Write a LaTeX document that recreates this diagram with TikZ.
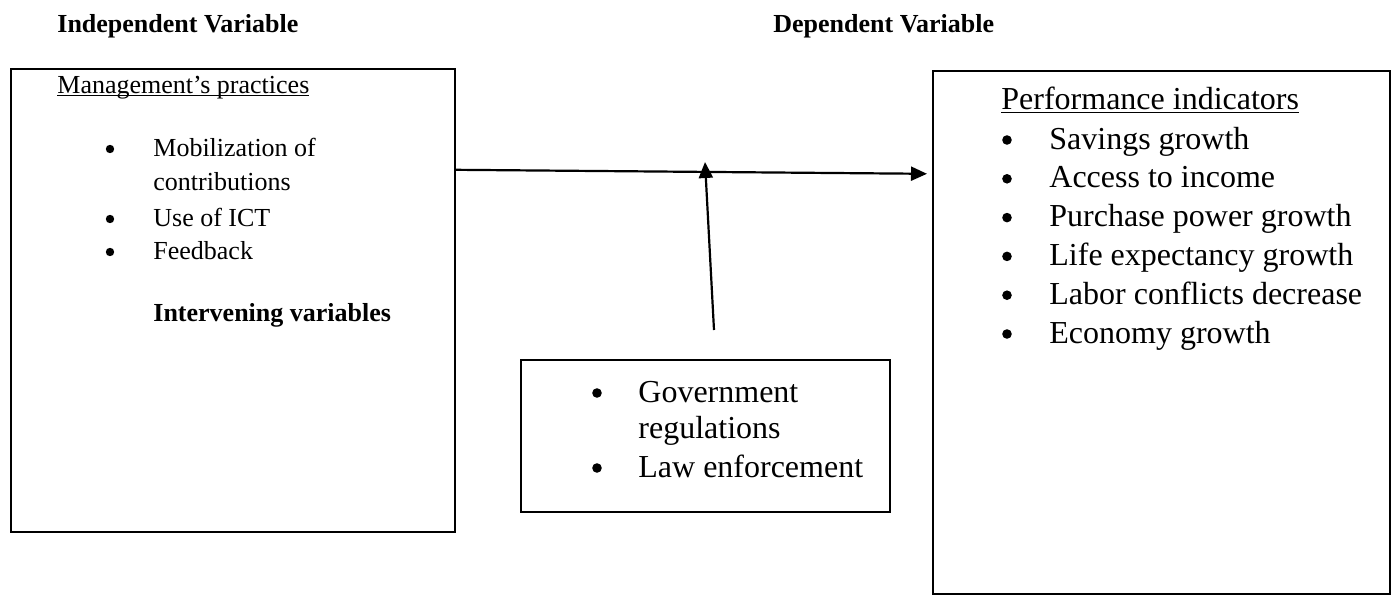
\documentclass[tikz,border=0pt]{standalone}
\usepackage{fontspec}
\setmainfont{Liberation Serif}
\usetikzlibrary{arrows.meta}

\tikzset{
  box/.style={draw, line width=0.8pt, anchor=north west, inner sep=0pt},
  head/.style={font=\fontsize{13}{15}\selectfont\bfseries, anchor=base west, inner sep=0pt},
  small/.style={font=\fontsize{13}{15}\selectfont, anchor=base west, inner sep=0pt},
  big/.style={font=\fontsize{16}{19}\selectfont, anchor=base west, inner sep=0pt},
  dot/.style={circle, fill, inner sep=0pt, minimum size=4.8pt},
  link/.style={line width=1.1pt, -{Triangle[length=8pt,width=7pt]}}
}

\begin{document}
\begin{tikzpicture}[x=0.5pt,y=-0.5pt]
\useasboundingbox (0,0) rectangle (1394,595);

% headings
\node[head] (indep) at (57,32) {Independent Variable};
\node[head] (dep) at (773,32) {Dependent Variable};

% boxes
\node[box, minimum width=222pt, minimum height=231.5pt] (mgmt) at (10,68) {};
\node[box, minimum width=184.5pt, minimum height=76pt] (govt) at (520,359) {};
\node[box, minimum width=228.5pt, minimum height=261.5pt] (perf) at (932,70) {};

% management's practices
\node[small] (mtitle) at (57,93) {\underline{\smash{Management's practices}}};
\node[dot, minimum size=4.2pt] (mb1) at (110,149) {};
\node[small] (mi1) at (153,156) {Mobilization of};
\node[small] (mi1b) at (153,190) {contributions};
\node[dot, minimum size=4.2pt] (mb2) at (110,219) {};
\node[small] (mi2) at (153,226) {Use of ICT};
\node[dot, minimum size=4.2pt] (mb3) at (110,252) {};
\node[small] (mi3) at (153,259) {Feedback};
\node[small, font=\fontsize{13}{15}\selectfont\bfseries] (interv) at (153,321) {Intervening variables};

% intervening
\node[dot] (gb1) at (597,393) {};
\node[big] (gi1) at (638,402) {Government};
\node[big] (gi1b) at (638,438) {regulations};
\node[dot] (gb2) at (597,468) {};
\node[big] (gi2) at (638,477) {Law enforcement};

% performance indicators
\node[big] (ptitle) at (1001,109) {\underline{Performance indicators}};
\foreach \txt [count=\i from 0] in {Savings growth, Access to income, Purchase power growth,
  Life expectancy growth, Labor conflicts decrease, Economy growth}{
  \node[dot] (pb\i) at (1007,140+38.8*\i) {};
  \node[big] (pi\i) at (1049,149+38.8*\i) {\txt};
}

% arrows
\coordinate (regs) at (714,330);
\coordinate (meet) at (705,162);
\draw[link] ([yshift=65.25pt]mgmt.east) -- ([yshift=79.25pt, xshift=-2.5pt]perf.west);
\draw[link] (regs) -- (meet);

\end{tikzpicture}
\end{document}
